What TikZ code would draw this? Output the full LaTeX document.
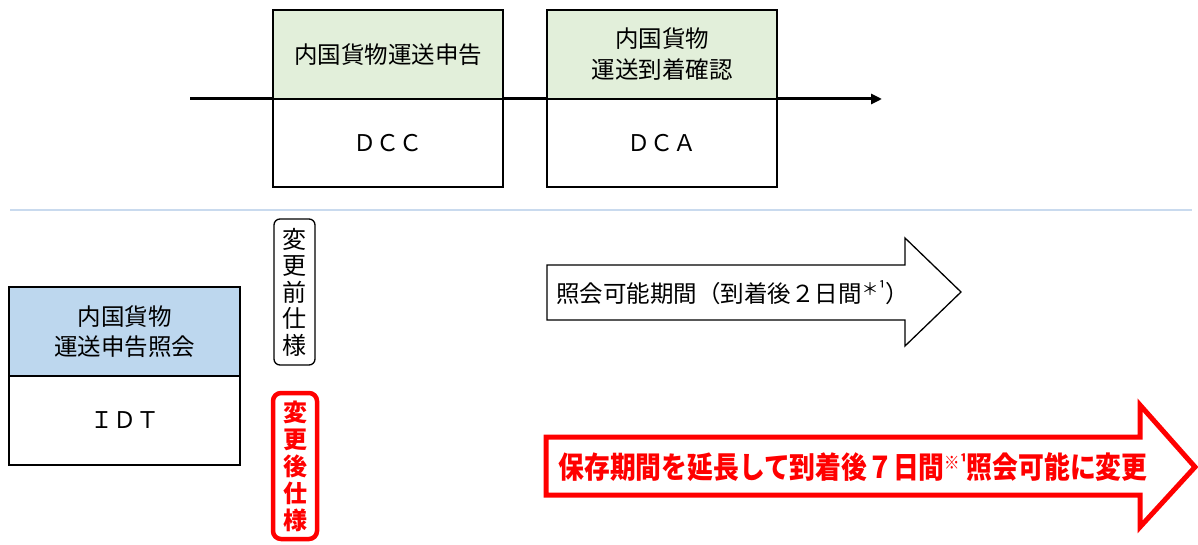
\documentclass[tikz,border=0pt]{standalone}
\usepackage{fontspec}
\setmainfont{Noto Sans CJK JP}
\usetikzlibrary{arrows.meta}
\definecolor{hdgreen}{HTML}{E2EFDA}
\definecolor{hdblue}{HTML}{BDD7EE}
\definecolor{seplue}{HTML}{C9DAEE}
\begin{document}
\begin{tikzpicture}[x=1pt,y=-1pt,
  boxpart/.style={draw=black,line width=1.3pt,minimum width=230pt,inner sep=0pt,align=center,font=\fontsize{23.5}{31}\selectfont},
  greenpart/.style={boxpart,fill=hdgreen},
  bluepart/.style={boxpart,fill=hdblue},
  whitepart/.style={boxpart,fill=white,font=\fontsize{23}{28}\selectfont},
  tagbox/.style={draw=black,line width=1.3pt,rounded corners=6pt,minimum width=41pt,inner sep=0pt,align=center,font=\fontsize{24}{26.5}\selectfont},
  redtag/.style={tagbox,draw=red,text=red,line width=4.5pt,rounded corners=8pt,minimum width=44pt,font=\fontsize{24}{27}\selectfont\bfseries},
  bigarrow/.style={draw=black,line width=1.3pt,fill=white},
  redarrow/.style={draw=red,line width=5pt,fill=white,line join=miter}
]
\useasboundingbox (0,0) rectangle (1198,545);
% timeline
\coordinate (ls) at (190,99);
\coordinate (le) at (882,99);
\draw[line width=3pt,-{Triangle[length=11pt,width=10pt]}] (ls) -- (le);
% DCC
\node[greenpart,minimum height=89pt] (dcct) at (388,54.5) {内国貨物運送申告};
\node[whitepart,minimum height=88pt] (dccb) at (388,143) {ＤＣＣ};
% DCA
\node[greenpart,minimum height=89pt] (dcat) at (662,54.5) {内国貨物\\運送到着確認};
\node[whitepart,minimum height=88pt] (dcab) at (662,143) {ＤＣＡ};
% separator
\coordinate (sa) at (10,210);
\coordinate (sb) at (1192,210);
\draw[seplue,line width=2.5pt] (sa) -- (sb);
% IDT
\node[bluepart,minimum height=89pt,minimum width=231pt,font=\fontsize{23.5}{30}\selectfont] (idtt) at (124.5,331.5) {内国貨物\\運送申告照会};
\node[whitepart,minimum height=89pt,minimum width=231pt] (idtb) at (124.5,420.5) {ＩＤＴ};
% tags
\node[tagbox,minimum height=146pt] (before) at (294.5,292) {変\\更\\前\\仕\\様};
\node[redtag,minimum height=146pt] (after) at (295,466) {変\\更\\後\\仕\\様};
% arrow 1
\draw[bigarrow] (547,265) -- (905,265) -- (905,238) -- (961,292) -- (905,346) -- (905,320) -- (547,320) -- cycle;
\node[font=\fontsize{23.5}{26}\selectfont,anchor=west,inner sep=0pt] (a1t) at (556,293) {照会可能期間（到着後２日間\raisebox{0.3em}{\fontsize{17}{18}\selectfont ＊¹}）};
% arrow 2
\draw[redarrow] (546,437) -- (1140,437) -- (1140,405) -- (1195,467) -- (1140,527) -- (1140,495) -- (546,495) -- cycle;
\node[font=\fontsize{30}{32}\selectfont\bfseries,text=red,inner sep=0pt] (a2t) at (853,467) {\scalebox{0.86}[1]{保存期間を延長して到着後７日間\raisebox{0.3em}{\fontsize{18}{18}\selectfont ※¹}照会可能に変更}};
\end{tikzpicture}
\end{document}
